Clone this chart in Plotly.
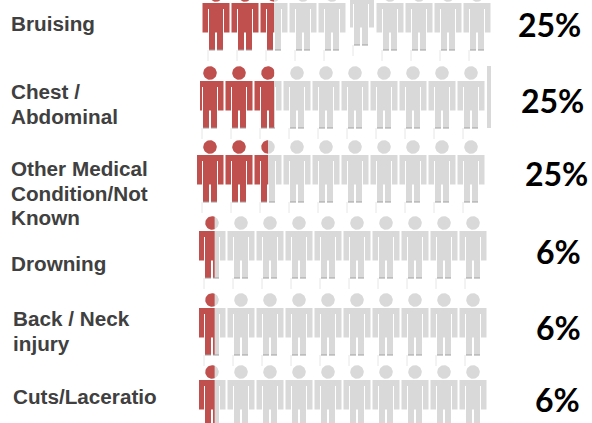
import math
import plotly.graph_objects as go

# ---- data ----
categories = [["Bruising"], ["Chest /", "Abdominal"], ["Other Medical", "Condition/Not", "Known"],
              ["Drowning"], ["Back / Neck", "injury"], ["Cuts/Laceratio"]]
percent_values = [25, 25, 25, 6, 6, 6]
percent_labels = ["25%", "25%", "25%", "6%", "6%", "6%"]

# ---- layout of the pictogram (pixel scale) ----
W, H = 592, 423
PEOPLE = 10
PITCH = 29
row_first_x = [216, 210, 210, 212, 212, 212]
row_body_top = [3, 81, 155, 231, 308, 380]
row_fill_shift = [0, 6, 0, 0, 0, 0]
row_clip_left = [202, 200, 197, 199, 199, 199]
label_x = [11, 11, 11, 11, 13, 13]
label_y = [23.5, 91.5, 168.5, 263.5, 318.5, 396.5]
LINE_GAP = 24.7
pct_right = [583, 586, 590, 583, 583, 582]
pct_y = [24, 100, 173, 251, 327, 399]
RED, GREY = "#C0504D", "#D9D9D9"


def rects(cx, top):
    g = 1.0
    return [
        (cx - 13.5, cx - 7.5 - g / 2, top, top + 29.5),
        (cx + 7.5 + g / 2, cx + 13.5, top, top + 29.5),
        (cx - 13.5, cx + 13.5, top, top + 6),
        (cx - 7.5 + g / 2, cx + 7.5 - g / 2, top, top + 29.5),
        (cx - 7.5 + g / 2, cx - 1, top + 29.5, top + 47),
        (cx + 1, cx + 7.5 - g / 2, top + 29.5, top + 47),
    ]


def circle(cx, cy, r=6.8):
    return [(cx + r * math.cos(t * math.pi / 20), cy + r * math.sin(t * math.pi / 20)) for t in range(41)]


def clip_poly(pts, lo, hi):
    """Clip a polygon to lo <= x <= hi."""
    def clip(ps, inside, cross):
        out = []
        for k in range(len(ps)):
            a, b = ps[k - 1], ps[k]
            if inside(b):
                if not inside(a):
                    out.append(cross(a, b))
                out.append(b)
            elif inside(a):
                out.append(cross(a, b))
        return out
    def at(v):
        return lambda a, b: (v, a[1] + (b[1] - a[1]) * (v - a[0]) / (b[0] - a[0]))
    res = clip(pts, lambda p: p[0] >= lo, at(lo))
    return clip(res, lambda p: p[0] <= hi, at(hi)) if res else res


def add(xs, ys, poly):
    if poly:
        xs.extend([p[0] for p in poly] + [poly[0][0], None])
        ys.extend([p[1] for p in poly] + [poly[0][1], None])


rx, ry, gx, gy = [], [], [], []
fx, fy, lx, ly = [], [], [], []
for r, value in enumerate(percent_values):
    n = value // 10
    frac = value / 10 - n
    split = row_first_x[r] + n * PITCH - 13.5 + frac * 27 + row_fill_shift[r]
    for i in range(PEOPLE):
        cx = row_first_x[r] + i * PITCH
        top = row_body_top[r] - (5 if (r == 0 and i == 5) else 0)
        left = row_clip_left[r] if i == 0 else (350 if (r == 0 and i == 5) else -1e3)
        right = 374 if (r == 0 and i == 5) else 1e4
        polys = [[(a, t), (b, t), (b, u), (a, u)] for a, b, t, u in rects(cx, top)]
        polys.append(circle(cx, top - 8))
        for p in polys:
            add(rx, ry, clip_poly(p, left, min(split, right)))
            add(gx, gy, clip_poly(p, max(split, left), right))
        feet = top + 47
        for a, b in [(cx - 7, cx - 1), (cx + 1, cx + 7)]:
            fx += [a, b, None]
            fy += [feet, feet, None]
        lx += [cx - 8, cx - 8, None]
        ly += [feet, feet + 11, None]

# stray sliver beside the second row
add(gx, gy, [(487, 66), (491, 66), (491, 128), (487, 128)])

fig = go.Figure()
fig.add_trace(go.Scatter(x=lx, y=ly, mode="lines", line=dict(color="#E6E6E6", width=1), hoverinfo="skip"))
fig.add_trace(go.Scatter(x=gx, y=gy, mode="lines", fill="toself", fillcolor=GREY, line=dict(width=0), hoverinfo="skip"))
fig.add_trace(go.Scatter(x=rx, y=ry, mode="lines", fill="toself", fillcolor=RED, line=dict(width=0), hoverinfo="skip"))
fig.add_trace(go.Scatter(x=fx, y=fy, mode="lines", line=dict(color="#A0A0A0", width=1), hoverinfo="skip"))

for r, lines in enumerate(categories):
    for j, c in enumerate(lines):
        fig.add_annotation(x=label_x[r], y=label_y[r] + j * LINE_GAP, text=f"<b>{c}</b>", showarrow=False,
                           xanchor="left", yanchor="middle", xshift=-2,
                           font=dict(family="Liberation Sans", size=20.7, color="#404040"))
    fig.add_annotation(x=pct_right[r], y=pct_y[r], text=f"<b>{percent_labels[r]}</b>", showarrow=False,
                       xanchor="right", yanchor="middle",
                       font=dict(family="Lato", size=32, color="#000000"))

fig.update_layout(
    width=W, height=H, autosize=False, margin=dict(l=0, r=0, t=0, b=0), showlegend=False,
    paper_bgcolor="white", plot_bgcolor="white",
    xaxis=dict(range=[0, W], visible=False, fixedrange=True),
    yaxis=dict(range=[H, 0], visible=False, fixedrange=True),
)
fig.write_html("out.html", config={"displayModeBar": False}, post_script="document.body.style.margin='0';")
